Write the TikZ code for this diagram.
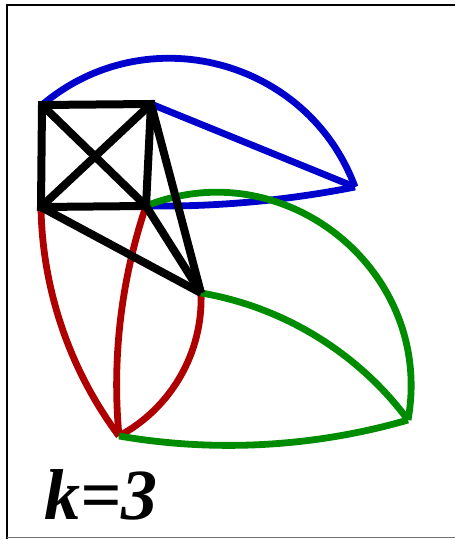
\documentclass[tikz,border=0pt]{standalone}
\usepackage{fontspec}
\newfontfamily\labelfont{Liberation Serif}
\definecolor{edgeblue}{RGB}{0,0,205}
\definecolor{edgered}{RGB}{175,0,0}
\definecolor{edgegreen}{RGB}{0,140,0}

\begin{document}
\begin{tikzpicture}[x=0.5pt,y=-0.5pt,
    kedge/.style={line width=4pt},
    cedge/.style={line width=3.4pt}
]
    \useasboundingbox (0,0) rectangle (455,539);
    % frame
    \draw[line width=1pt] (7,539) -- (7,5) -- (455,5);
    \draw[line width=0.5pt,black!55] (7,537) -- (455,537);

    \coordinate (A) at (42,105);
    \coordinate (B) at (151,104);
    \coordinate (C) at (41,207);
    \coordinate (D) at (146,206);
    \coordinate (E) at (201,293);
    \coordinate (F) at (355,187);
    \coordinate (G) at (408,420);
    \coordinate (H) at (119,436);

    % colour classes
    \draw[cedge,edgeblue] (A) to[bend left=55,looseness=1.08] (F);
    \draw[cedge,edgeblue] (B) -- (F);
    \draw[cedge,edgeblue] (D) to[bend right=6,looseness=0.85] (F);

    \draw[cedge,edgered] (C) to[bend right=18,looseness=0.87] (H);
    \draw[cedge,edgered] (D) to[bend right=12,looseness=0.86] (H);
    \draw[cedge,edgered] (E) to[bend left=32,looseness=0.92] (H);

    \draw[cedge,edgegreen] (D) to[bend left=61,looseness=1.14] (G);
    \draw[cedge,edgegreen] (E) to[bend left=22,looseness=0.88] (G);
    \draw[cedge,edgegreen] (H) to[bend right=13,looseness=0.86] (G);

    % black graph
    \draw[kedge] (A) -- (B) -- (D) -- (C) -- cycle;
    \draw[kedge] (A) -- (D);
    \draw[kedge] (B) -- (C);
    \draw[kedge] (B) -- (E);
    \draw[kedge] (C) -- (E);
    \draw[kedge] (D) -- (E);

    \node[anchor=base west,inner sep=0pt,font=\labelfont\bfseries\itshape\fontsize{36}{40}\selectfont] (klabel) at (44,519) {k=3};
\end{tikzpicture}
\end{document}
